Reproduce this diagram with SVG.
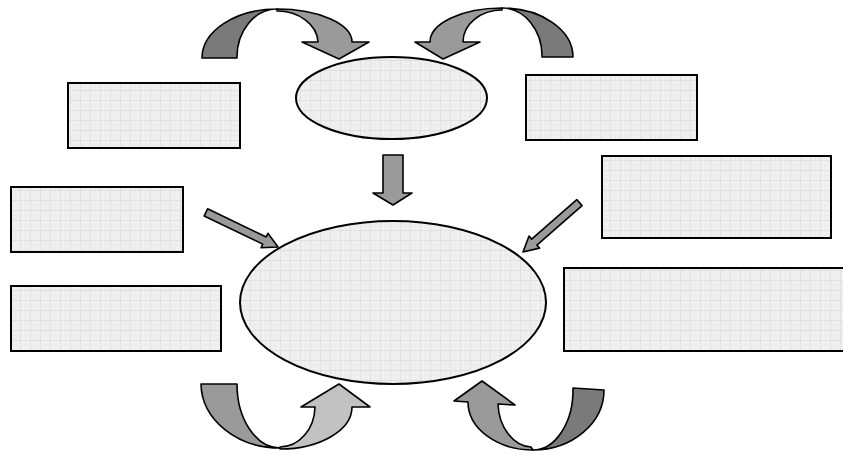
<svg xmlns="http://www.w3.org/2000/svg" width="843" height="455" viewBox="0 0 843 455">
<defs>
<pattern id="grid" width="10" height="10" patternUnits="userSpaceOnUse">
<rect width="10" height="10" fill="#f0f0f0"/>
<path d="M0,0.5H10M0.5,0V10" stroke="#e0e0e0" stroke-width="1"/>
<path d="M5,0.5V10M0,5.5H10" stroke="#e8e8e8" stroke-width="1" stroke-dasharray="1,1"/>
</pattern>
<style>
.box{fill:url(#grid);stroke:#000;stroke-width:2}
.oval{fill:url(#grid);stroke:#000;stroke-width:2}
.arr{stroke:#000;stroke-width:1.6;stroke-linejoin:round}
.g6{fill:#7a7a7a}
.g9{fill:#9a9a9a}
.gc{fill:#c2c2c2}
</style>
</defs>
<rect width="843" height="455" fill="#fff"/>
<g id="box-top-left"><rect class="box" x="68" y="83" width="172" height="65"/></g>
<g id="box-top-right"><rect class="box" x="526" y="75" width="171" height="65"/></g>
<g id="box-left-mid"><rect class="box" x="11" y="187" width="172" height="65"/></g>
<g id="box-left-low"><rect class="box" x="11" y="286" width="210" height="65"/></g>
<g id="box-right-mid"><rect class="box" x="602" y="156" width="229" height="82"/></g>
<g id="box-right-low"><rect class="box" x="564" y="268" width="285" height="83"/></g>
<g id="oval-top"><ellipse class="oval" cx="391.5" cy="98" rx="95.5" ry="41"/></g>
<g id="oval-main"><ellipse class="oval" cx="393" cy="302.5" rx="153" ry="81.5"/></g>
<g id="connectors">
<g id="curve-top-left">
<path class="arr g6" d="M202,58 A75,49 0 0 1 277,9 A40,48 0 0 0 237,58 Z"/>
<path class="arr g9" d="M277,9 A75,33 0 0 1 352,42 L369,42 L339,59 L302,42 L318,42 A41,32 0 0 0 277,11 Z"/>
</g>
<g id="curve-top-right">
<path class="arr g6" d="M573,57 A71,49 0 0 0 502,8 A40,48 0 0 1 542,57 Z"/>
<path class="arr g9" d="M502,8 A72,34 0 0 0 430,42 L415,42 L443,59 L480,42 L463,42 A39,32 0 0 1 502,10 Z"/>
</g>
<g id="curve-bottom-left">
<path class="arr g9" d="M201,384 L237,384 A43,64 0 0 0 280,448 A79,65 0 0 1 201,384 Z"/>
<path class="arr gc" d="M280,449 A72,42 0 0 0 352,407 L370,407 L339,384 L301,407 L315,407 A35,41 0 0 1 280,447 Z"/>
</g>
<g id="curve-bottom-right">
<path class="arr g6" d="M573,388 L604,390 A71,60 0 0 1 533,450 A40,60 0 0 0 573,388 Z"/>
<path class="arr g9" d="M533,450 A65,48 0 0 1 468,402 L454,401 L482,381 L515,405 L498,404 A35,45 0 0 0 531,447 Z"/>
</g>
<path id="arrow-down" class="arr g9" d="M383,155 H403 V193 H412 L393,205 L373,193 H383 Z"/>
<path id="arrow-left-diag" class="arr g9" transform="translate(278,247) rotate(25.6)" d="M0,0 L-15,-8 L-15,-4 L-80,-4 L-80,4 L-15,4 L-15,8 Z"/>
<path id="arrow-right-diag" class="arr g9" transform="translate(523,252) rotate(138.8)" d="M0,0 L-15,-8 L-15,-4 L-75,-4 L-75,4 L-15,4 L-15,8 Z"/>
</g>
</svg>
